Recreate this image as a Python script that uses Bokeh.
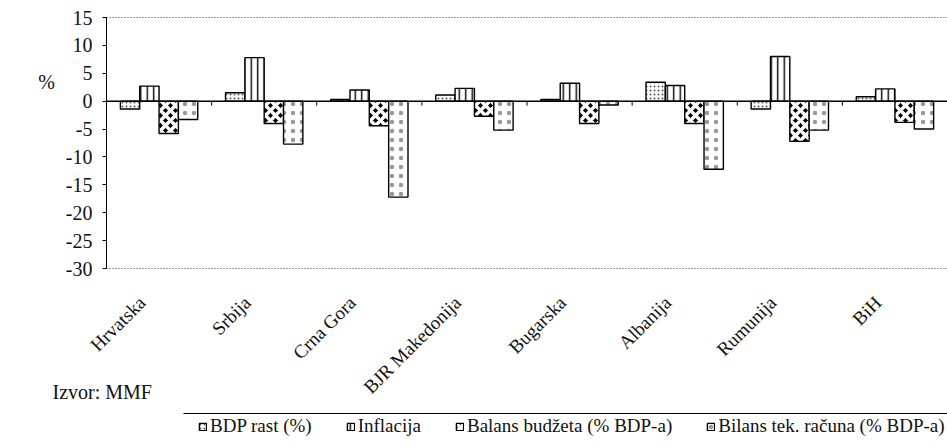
from math import pi
from bokeh.plotting import figure
from bokeh.models import (ColumnDataSource, Range1d, FixedTicker, Label, LinearAxis,
                          Legend, LegendItem, Arrow)
from bokeh.transform import dodge
from bokeh.embed import file_html
from bokeh.resources import INLINE

# ---- data ----
countries = ["Hrvatska", "Srbija", "Crna Gora", "BJR Makedonija",
             "Bugarska", "Albanija", "Rumunija", "BiH"]
bdp_rast = [-1.4, 1.5, 0.3, 1.1, 0.3, 3.4, -1.4, 0.8]
inflacija = [2.7, 7.8, 2.0, 2.3, 3.2, 2.8, 8.0, 2.2]
balans_budzeta = [-5.8, -4.0, -4.4, -2.7, -4.0, -4.0, -7.2, -3.8]
bilans_tek_racuna = [-3.3, -7.7, -17.2, -5.2, -0.7, -12.2, -5.2, -5.0]
series_labels = ["BDP rast (%)", "Inflacija", "Balans budžeta (% BDP-a)",
                 "Bilans tek. računa (% BDP-a)"]
y_ticks = [-30, -25, -20, -15, -10, -5, 0, 5, 10, 15]
source_note = "Izvor: MMF"
y_unit = "%"

# ---- layout constants (pixels) ----
W, H = 947, 445
PLOT_LEFT, PLOT_TOP, PLOT_BOTTOM = 106, 17, 268
FONT = "Liberation Serif"
INK = "#111111"

n = len(countries)
unit = (W - PLOT_LEFT) / n
ymin, ymax = y_ticks[0], y_ticks[-1]
pxu = (PLOT_BOTTOM - PLOT_TOP) / (ymax - ymin)

p = figure(width=W, height=H,
           x_range=Range1d(-PLOT_LEFT / unit, n),
           y_range=Range1d(ymin - (H - PLOT_BOTTOM) / pxu, ymax + PLOT_TOP / pxu),
           x_axis_location=None, y_axis_location=None,
           output_backend="svg", toolbar_location=None,
           min_border=0, min_border_left=0, min_border_right=0,
           min_border_top=0, min_border_bottom=0)
p.outline_line_color = None
p.xgrid.visible = False
p.ygrid.visible = False
p.background_fill_color = "white"
p.border_fill_color = "white"

centers = [i + 0.5 for i in range(n)]
source = ColumnDataSource(dict(x=centers, bdp=bdp_rast, infl=inflacija,
                               balans=balans_budzeta, bilans=bilans_tek_racuna))

# y axis (through x = 0)
yaxis = LinearAxis(fixed_location=0, bounds=(ymin, ymax), ticker=FixedTicker(ticks=y_ticks),
                   major_label_overrides={t: str(t) for t in y_ticks})
yaxis.axis_line_color = "black"
yaxis.major_tick_line_color = "black"
yaxis.major_tick_out = 4
yaxis.major_tick_in = 0
yaxis.minor_tick_line_color = None
yaxis.major_label_text_font = FONT
yaxis.major_label_text_font_size = "20px"
yaxis.major_label_text_color = INK
yaxis.major_label_standoff = 10
p.add_layout(yaxis, "left")

# category axis (labels below the -30 line)
LABEL_SHIFT = -0.16
label_ticks = [c + LABEL_SHIFT for c in centers]
xaxis = LinearAxis(fixed_location=ymin, ticker=FixedTicker(ticks=label_ticks),
                   major_label_overrides={t: c for t, c in zip(label_ticks, countries)})
xaxis.axis_line_color = None
xaxis.major_tick_line_color = None
xaxis.minor_tick_line_color = None
xaxis.major_label_orientation = pi / 4
xaxis.major_label_text_font = FONT
xaxis.major_label_text_font_size = "19px"
xaxis.major_label_text_color = INK
xaxis.major_label_standoff = 25
p.add_layout(xaxis, "below")

# dotted top / bottom border lines of the plot area
p.segment(x0=[0, 0], x1=[n, n], y0=[ymin, ymax], y1=[ymin, ymax],
          line_color="#333333", line_dash="1 2", line_width=1)

w = 0.184
cols = ["bdp", "infl", "balans", "bilans"]
styles = [
    dict(fill_color="white", hatch_pattern="dot", hatch_scale=4, hatch_weight=0.4, hatch_color="#555555"),
    dict(fill_color="white", hatch_pattern="vertical_line", hatch_scale=6.5, hatch_weight=1.4, hatch_color="black"),
    dict(fill_color="black", hatch_pattern="diagonal_cross", hatch_scale=10, hatch_weight=3.5, hatch_color="white"),
    dict(fill_color="white", hatch_pattern="dot", hatch_scale=9, hatch_weight=0, hatch_color="#999999"),
]
renderers = []
for i, (col, st) in enumerate(zip(cols, styles)):
    off = (i - 1.5) * w
    r = p.vbar(x=dodge("x", off), top=col, bottom=0, width=w,
               source=source, line_color="black", line_width=1.4, **st)
    renderers.append(r)

# zero line and category separator ticks
p.segment(x0=[0], x1=[n], y0=[0], y1=[0], line_color="black", line_width=1.5)
bounds = list(range(1, n))
p.segment(x0=bounds, y0=[0] * len(bounds), x1=bounds, y1=[-0.8] * len(bounds),
          line_color="black", line_width=1)

# texts
p.add_layout(Label(x=46, y=H - 81, x_units="screen", y_units="screen", text=y_unit,
                   text_align="center", text_baseline="middle", text_font=FONT,
                   text_font_size="20px", text_color=INK))
p.add_layout(Label(x=52, y=H - 391, x_units="screen", y_units="screen", text=source_note,
                   text_align="left", text_baseline="middle", text_font=FONT,
                   text_font_size="20px", text_color=INK))

# line above the legend
p.add_layout(Arrow(end=None, x_start=183, y_start=H - 413, x_end=W, y_end=H - 413,
                   start_units="screen", end_units="screen",
                   line_color="black", line_width=1))

legend = Legend(items=[LegendItem(label=lab, renderers=[r]) for lab, r in zip(series_labels, renderers)],
                orientation="horizontal", location=(198, H - 437),
                border_line_color=None, background_fill_alpha=0,
                padding=0, margin=0, spacing=34, label_standoff=3,
                glyph_width=9, glyph_height=9, label_height=20,
                label_text_font=FONT, label_text_font_size="19px", label_text_color=INK)
p.add_layout(legend)

open("out.html", "w").write(file_html(p, INLINE))
